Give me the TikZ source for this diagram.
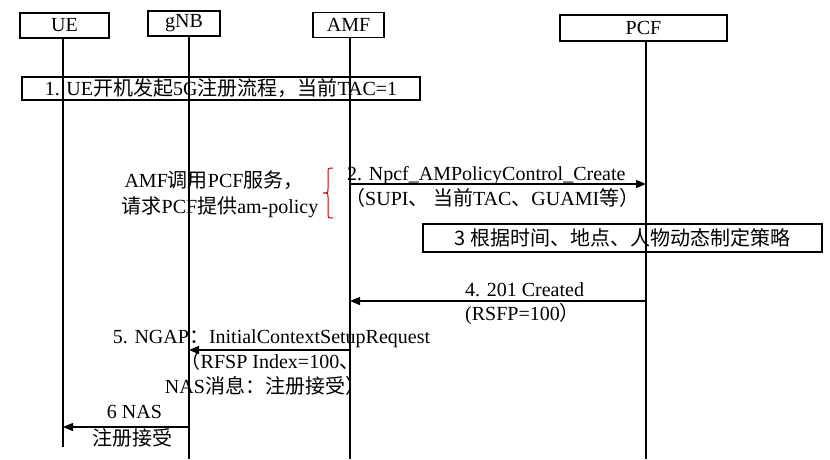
\documentclass[tikz,border=0pt]{standalone}
\usepackage{fontspec}
\setmainfont{Liberation Serif}
\newfontfamily\cjk{Noto Sans CJK SC}
\usetikzlibrary{arrows.meta}
\begin{document}
\begin{tikzpicture}[x=1pt,y=-1pt,
  font=\fontsize{20}{24}\selectfont,
  ent/.style={draw, line width=1.5pt, minimum height=25pt, inner sep=0pt},
  stepbox/.style={draw, line width=1.5pt, inner sep=0pt},
  life/.style={line width=1.2pt},
  msg/.style={line width=1.2pt, -{Triangle[length=10pt,width=8pt]}},
  lblw/.style={inner sep=0pt, anchor=base west},
  lblc/.style={inner sep=0pt, anchor=base}]
\useasboundingbox (0,0) rectangle (830,459);

% entities
\node[ent, minimum width=89pt] (ue)  at (64.5,25.5) {UE};
\node[ent, minimum width=72pt] (gnb) at (184,23.5) {gNB};
\node[ent, minimum width=71pt] (amf) at (348.5,25) {AMF};
\node[ent, minimum width=167pt, minimum height=26pt] (pcf) at (643.5,28) {PCF};

% lifeline ends
\coordinate (ueend)  at (63,447);
\coordinate (gnbend) at (189,459);
\coordinate (amfend) at (350,459);
\coordinate (pcfend) at (646,459);

\draw[life] (ue.south -| ueend) -- (ueend);
\draw[life] (gnb.south -| gnbend) -- (gnbend);
\draw[life] (amf.south -| amfend) -- (amfend);
\draw[life] (pcf.south -| pcfend) -- (pcfend);

% step 1
\node[stepbox, minimum width=398pt, minimum height=23pt] (s1) at (221,88.5)
  {1. UE{\cjk 开机发起}5G{\cjk 注册流程，当前}TAC=1};

% step 2
\coordinate (m2a) at (350,184);
\coordinate (m2b) at (646,184);
\draw[msg] (m2a) -- (m2b);
\node[lblw] (m2l1) at (347,180) {2. Npcf\_AMPolicyControl\_Create};
\node[lblw] (m2l2) at (345,205) {{\cjk （}SUPI{\cjk 、 当前}TAC{\cjk 、}GUAMI{\cjk 等）}};

% bracket and note
\draw[red!80!black, line width=1pt]
  (333,168) .. controls (328,168) .. (328,173) -- (328,189)
  .. controls (328,193) .. (323,193)
  .. controls (328,193) .. (328,197) -- (328,213)
  .. controls (328,218) .. (333,218);
\node[lblc] (n1) at (214,187) {AMF{\cjk 调用}PCF{\cjk 服务，}};
\node[lblc] (n2) at (220,213) {{\cjk 请求}PCF{\cjk 提供}am-policy};

% step 3
\node[stepbox, minimum width=399pt, minimum height=28pt] (s3) at (622.5,238)
  {{\cjk 3 根据时间、地点、人物动态制定策略}};

% step 4
\coordinate (m4a) at (646,301);
\coordinate (m4b) at (350,301);
\draw[msg] (m4a) -- (m4b);
\node[lblw] (m4l1) at (465,296) {4. 201 Created};
\node[lblw] (m4l2) at (465,320) {(RSFP=100{\cjk ）}};

% step 5
\coordinate (m5a) at (350,350);
\coordinate (m5b) at (189,350);
\draw[msg] (m5a) -- (m5b);
\node[lblc] (m5l1) at (271.5,343) {5. NGAP{\cjk ：}InitialContextSetupRequest};
\node[lblc] (m5l2) at (270,368) {{\cjk （}RFSP Index=100{\cjk 、}};
\node[lblc] (m5l3) at (265,393) {NAS{\cjk 消息：注册接受）}};

% step 6
\coordinate (m6a) at (189,427);
\coordinate (m6b) at (63,427);
\draw[msg] (m6a) -- (m6b);
\node[lblc] (m6l1) at (134.5,418) {6 NAS};
\node[lblc] (m6l2) at (132.5,445) {{\cjk 注册接受}};
\end{tikzpicture}
\end{document}
